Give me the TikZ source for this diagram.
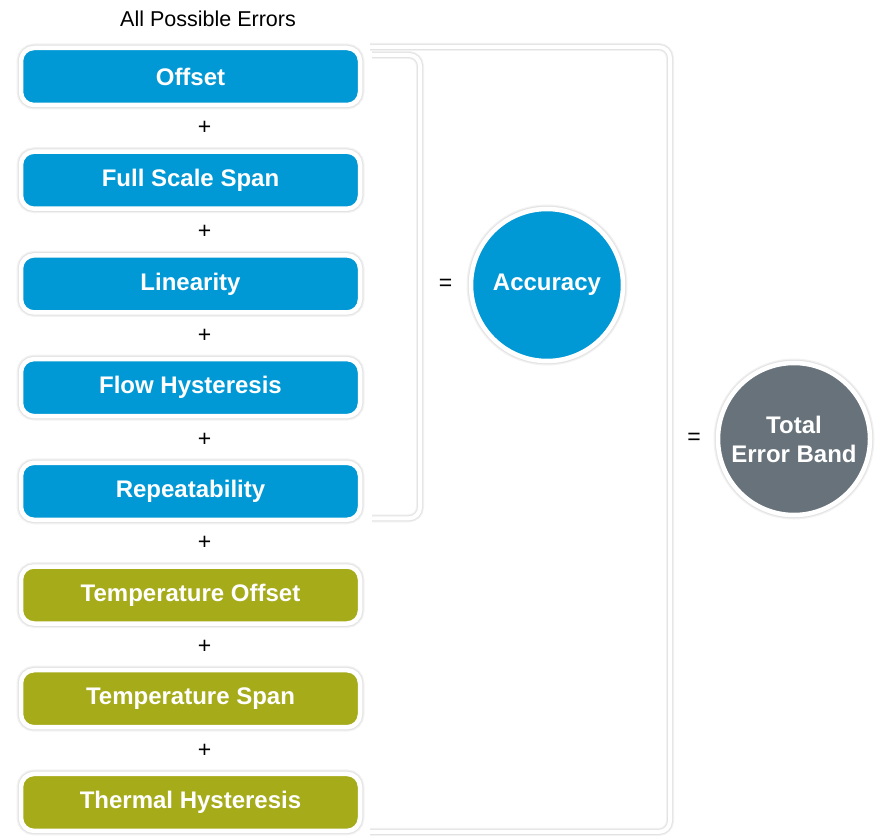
\documentclass[tikz,border=0pt]{standalone}
\usepackage{fontspec}
\setmainfont{Liberation Sans}
\usetikzlibrary{calc, positioning}

\definecolor{errblue}{HTML}{0098D5}
\definecolor{errolive}{HTML}{A6AB19}
\definecolor{errgrey}{HTML}{67727A}

\begin{document}
\begin{tikzpicture}[x=1pt, y=1pt,
  errbox/.style={rectangle, rounded corners=13pt, draw=white, line width=4.5pt,
    minimum width=339pt, minimum height=57pt, inner sep=0pt, outer sep=0pt,
    text=white, font=\bfseries\fontsize{24}{29}\selectfont,
    preaction={draw=black!5, line width=9pt},
    preaction={draw=black!11, line width=6.5pt}},
  sumcircle/.style={circle, draw=white, line width=4.5pt, minimum size=152pt,
    inner sep=0pt, outer sep=0pt, text=white, align=center,
    font=\bfseries\fontsize{24}{29}\selectfont,
    preaction={draw=black!5, line width=9pt},
    preaction={draw=black!11, line width=6.5pt}},
  bracket/.style={draw=white, line width=4pt, rounded corners=11pt,
    preaction={draw=black!5, line width=8pt},
    preaction={draw=black!11, line width=6pt}},
  sign/.style={font=\fontsize{23}{28}\selectfont}]
\useasboundingbox (0,0) rectangle (885,-837);
% Title
\node[font=\fontsize{21.5}{26}\selectfont] (title) at (208,-19) {All Possible Errors};
% Error boxes
\node[errbox, fill=errblue] (offset) at (190.5,-76.5) {Offset};
\node[errbox, fill=errblue, below=46.7pt of offset] (span) {Full Scale Span};
\node[errbox, fill=errblue, below=46.7pt of span] (linearity) {Linearity};
\node[errbox, fill=errblue, below=46.7pt of linearity] (flowhyst) {Flow Hysteresis};
\node[errbox, fill=errblue, below=46.7pt of flowhyst] (repeat) {Repeatability};
\node[errbox, fill=errolive, below=46.7pt of repeat] (tempoffset) {Temperature Offset};
\node[errbox, fill=errolive, below=46.7pt of tempoffset] (tempspan) {Temperature Span};
\node[errbox, fill=errolive, below=46.7pt of tempspan] (thermal) {Thermal Hysteresis};
% Plus signs between the boxes
\node[sign] (plus1) at ($(offset.south)!0.5!(span.north)+(14,0)$) {+};
\node[sign] (plus2) at ($(span.south)!0.5!(linearity.north)+(14,0)$) {+};
\node[sign] (plus3) at ($(linearity.south)!0.5!(flowhyst.north)+(14,0)$) {+};
\node[sign] (plus4) at ($(flowhyst.south)!0.5!(repeat.north)+(14,0)$) {+};
\node[sign] (plus5) at ($(repeat.south)!0.5!(tempoffset.north)+(14,0)$) {+};
\node[sign] (plus6) at ($(tempoffset.south)!0.5!(tempspan.north)+(14,0)$) {+};
\node[sign] (plus7) at ($(tempspan.south)!0.5!(thermal.north)+(14,0)$) {+};
% Draw inner bracket
\coordinate (in-top) at ($(offset.north east)+(12,-7)$);
\coordinate (in-bot) at ($(repeat.south east)+(12,1.5)$);
\draw[bracket] (in-top) -- ++(48,0) coordinate (in-corner) |- (in-bot);
% Draw outer bracket
\coordinate (out-top) at ($(offset.north east)+(10,1)$);
\coordinate (out-bot) at ($(thermal.south east)+(10,-1)$);
\draw[bracket] (out-top) -- ++(300,0) coordinate (out-corner) |- (out-bot);
% Result circles
\node[sumcircle, fill=errblue] (accuracy) at (547,-285) {Accuracy};
\node[sumcircle, fill=errgrey] (total) at (794,-439) {Total\\Error Band};
% Equal signs
\node[sign] (eq1) at ($(in-corner |- accuracy)!0.5!(accuracy.west)$) {=};
\node[sign] (eq2) at ($(out-corner |- total)!0.5!(total.west)$) {=};
\end{tikzpicture}
\end{document}
